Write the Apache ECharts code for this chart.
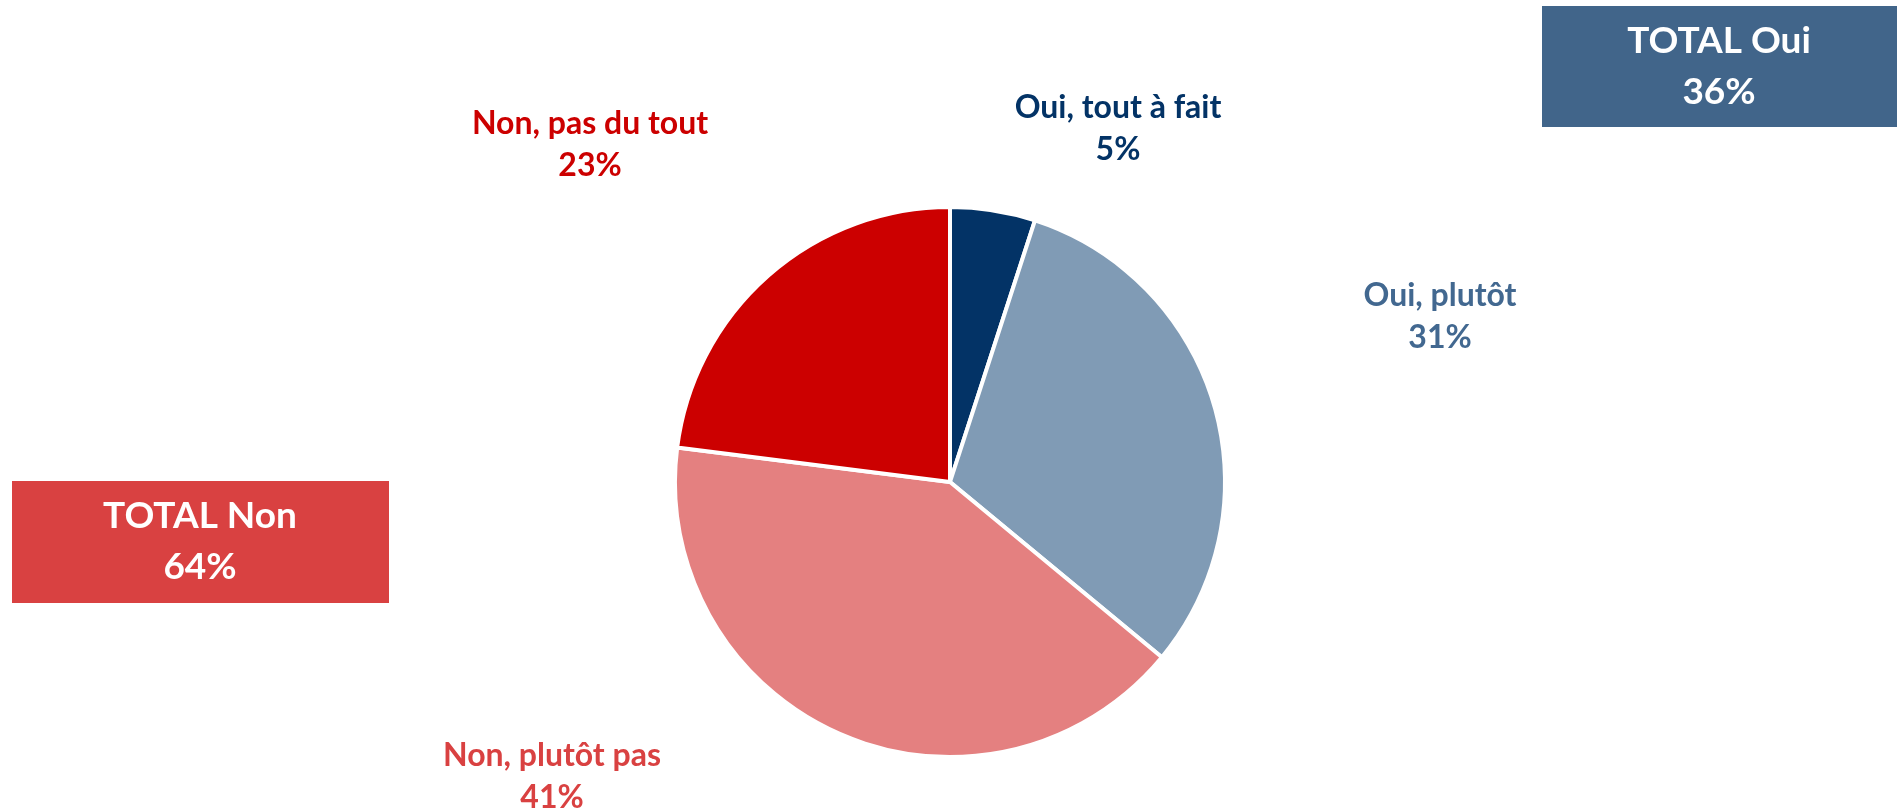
<!DOCTYPE html>
<html>
<head>
<meta charset="utf-8">
<script src="https://cdn.jsdelivr.net/npm/echarts@6/dist/echarts.min.js"></script>
<style>
  html, body { margin: 0; padding: 0; background: #fff; }
  #chart { width: 1901px; height: 811px; }
</style>
</head>
<body>
<div id="chart"></div>
<script>
// categories & values (%)
const categories = ['Oui, tout à fait', 'Oui, plutôt', 'Non, plutôt pas', 'Non, pas du tout']
const values = [5, 31, 41, 23]
const sliceColors = ['#033366', '#809BB5', '#E48080', '#CC0000']
const labelColors = ['#033366', '#426890', '#D94141', '#CC0000']
const labelSpots = [[1118, 129], [1440, 317], [552, 777], [590, 145]]

const totalOui = values[0] + values[1]
const totalNon = values[2] + values[3]

const chart = echarts.init(document.getElementById('chart'))
const font = 'Lato, "Open Sans", sans-serif'

const option = {
  animation: false,
  series: [{
    type: 'pie',
    center: [950, 482],
    radius: 275,
    startAngle: 90,
    clockwise: true,
    itemStyle: { borderColor: '#fff', borderWidth: 4 },
    label: {
      show: true,
      position: 'outside',
      formatter: '{b}\n{c}%',
      fontFamily: font,
      fontWeight: 'bold',
      fontSize: 32,
      lineHeight: 42,
      align: 'center'
    },
    labelLine: { show: false },
    labelLayout: function (p) {
      const s = labelSpots[p.dataIndex]
      return { x: s[0], y: s[1], align: 'center', verticalAlign: 'middle' }
    },
    data: categories.map((c, i) => ({
      name: c,
      value: values[i],
      itemStyle: { color: sliceColors[i] },
      label: { color: labelColors[i] }
    }))
  }],
  graphic: [
    {
      type: 'rect', left: 1542, top: 6,
      shape: { width: 355, height: 121 },
      style: { fill: '#41658A' }
    },
    {
      type: 'text', x: 1719, y: 67,
      style: {
        text: 'TOTAL Oui\n' + totalOui + '%',
        fill: '#fff', font: 'bold 37px ' + font,
        align: 'center', verticalAlign: 'middle', lineHeight: 51
      }
    },
    {
      type: 'rect', left: 12, top: 481,
      shape: { width: 377, height: 122 },
      style: { fill: '#D94141' }
    },
    {
      type: 'text', x: 200, y: 542,
      style: {
        text: 'TOTAL Non\n' + totalNon + '%',
        fill: '#fff', font: 'bold 37px ' + font,
        align: 'center', verticalAlign: 'middle', lineHeight: 51
      }
    }
  ]
}

chart.setOption(option)
</script>
</body>
</html>
